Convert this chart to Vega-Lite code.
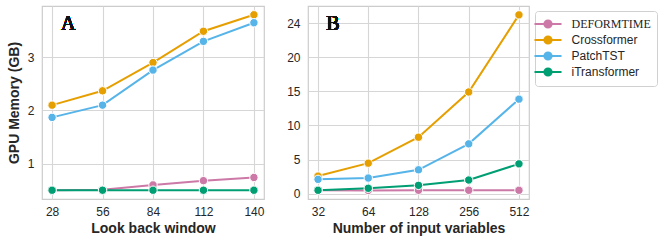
{
  "$schema": "https://vega.github.io/schema/vega-lite/v6.json",
  "padding": {"left": 6, "top": 5, "right": 0, "bottom": 0},
  "background": "white",
  "config": {
    "font": "Liberation Sans",
    "view": {"stroke": "#cccccc", "strokeWidth": 1.2},
    "axis": {
      "domain": false, "ticks": false, "grid": true, "gridColor": "#d6d6d6", "gridWidth": 1.1,
      "labelFont": "Liberation Sans", "labelFontSize": 12, "labelColor": "#262626", "labelOverlap": false,
      "titleFont": "Liberation Sans", "titleFontSize": 14, "titleFontWeight": "bold", "titleColor": "#262626",
      "labelPadding": 8
    }
  },
  "datasets": {
    "mem": [
      {"panel": "A", "x": 28, "model": "DeformTime", "mem": 0.5},
      {"panel": "A", "x": 56, "model": "DeformTime", "mem": 0.51},
      {"panel": "A", "x": 84, "model": "DeformTime", "mem": 0.6},
      {"panel": "A", "x": 112, "model": "DeformTime", "mem": 0.68},
      {"panel": "A", "x": 140, "model": "DeformTime", "mem": 0.74},
      {"panel": "A", "x": 28, "model": "Crossformer", "mem": 2.1},
      {"panel": "A", "x": 56, "model": "Crossformer", "mem": 2.37},
      {"panel": "A", "x": 84, "model": "Crossformer", "mem": 2.9},
      {"panel": "A", "x": 112, "model": "Crossformer", "mem": 3.49},
      {"panel": "A", "x": 140, "model": "Crossformer", "mem": 3.8},
      {"panel": "A", "x": 28, "model": "PatchTST", "mem": 1.87},
      {"panel": "A", "x": 56, "model": "PatchTST", "mem": 2.1},
      {"panel": "A", "x": 84, "model": "PatchTST", "mem": 2.76},
      {"panel": "A", "x": 112, "model": "PatchTST", "mem": 3.3},
      {"panel": "A", "x": 140, "model": "PatchTST", "mem": 3.65},
      {"panel": "A", "x": 28, "model": "iTransformer", "mem": 0.5},
      {"panel": "A", "x": 56, "model": "iTransformer", "mem": 0.5},
      {"panel": "A", "x": 84, "model": "iTransformer", "mem": 0.5},
      {"panel": "A", "x": 112, "model": "iTransformer", "mem": 0.5},
      {"panel": "A", "x": 140, "model": "iTransformer", "mem": 0.5},
      {"panel": "B", "x": 32, "model": "DeformTime", "mem": 0.5},
      {"panel": "B", "x": 64, "model": "DeformTime", "mem": 0.48},
      {"panel": "B", "x": 128, "model": "DeformTime", "mem": 0.5},
      {"panel": "B", "x": 256, "model": "DeformTime", "mem": 0.5},
      {"panel": "B", "x": 512, "model": "DeformTime", "mem": 0.5},
      {"panel": "B", "x": 32, "model": "Crossformer", "mem": 2.58},
      {"panel": "B", "x": 64, "model": "Crossformer", "mem": 4.47},
      {"panel": "B", "x": 128, "model": "Crossformer", "mem": 8.27},
      {"panel": "B", "x": 256, "model": "Crossformer", "mem": 14.9},
      {"panel": "B", "x": 512, "model": "Crossformer", "mem": 26.2},
      {"panel": "B", "x": 32, "model": "PatchTST", "mem": 2.1},
      {"panel": "B", "x": 64, "model": "PatchTST", "mem": 2.29},
      {"panel": "B", "x": 128, "model": "PatchTST", "mem": 3.5},
      {"panel": "B", "x": 256, "model": "PatchTST", "mem": 7.3},
      {"panel": "B", "x": 512, "model": "PatchTST", "mem": 13.85},
      {"panel": "B", "x": 32, "model": "iTransformer", "mem": 0.5},
      {"panel": "B", "x": 64, "model": "iTransformer", "mem": 0.79},
      {"panel": "B", "x": 128, "model": "iTransformer", "mem": 1.22},
      {"panel": "B", "x": 256, "model": "iTransformer", "mem": 2.0},
      {"panel": "B", "x": 512, "model": "iTransformer", "mem": 4.37}
    ]
  },
  "data": {"name": "mem"},
  "spacing": 44,
  "bounds": "flush",
  "resolve": {"scale": {"color": "independent"}, "legend": {"color": "independent"}},
  "hconcat": [
    {
      "width": 222,
      "height": 193,
      "layer": [
        {
          "transform": [{"filter": "datum.panel == 'A'"}],
          "mark": {"type": "line", "strokeWidth": 2, "point": {"filled": true, "size": 70, "stroke": "white", "strokeWidth": 1, "opacity": 1}},
          "encoding": {
            "x": {"field": "x", "type": "quantitative", "scale": {"domain": [22.4, 145.6], "nice": false, "zero": false},
                  "axis": {"values": [28, 56, 84, 112, 140], "tickCount": 10, "format": "d", "title": "Look back window", "titlePadding": 4, "labelPadding": 7}},
            "y": {"field": "mem", "type": "quantitative", "scale": {"domain": [0.335, 3.965], "nice": false, "zero": false},
                  "axis": {"values": [1, 2, 3], "tickCount": 10, "format": "d", "title": "GPU Memory (GB)", "titlePadding": 6}},
            "color": {"field": "model", "type": "nominal",
                      "scale": {"domain": ["DeformTime", "Crossformer", "PatchTST", "iTransformer"], "range": ["#CC79A7", "#E69F00", "#56B4E9", "#009E73"]},
                      "legend": null}
          }
        },
        {
          "mark": {"type": "text", "font": "Liberation Serif", "fontSize": 20, "fontWeight": "normal", "color": "#111111", "align": "center", "baseline": "middle"},
          "encoding": {"x": {"datum": 37}, "y": {"datum": 3.62}, "text": {"value": "A"}}
        }
      ]
    },
    {
      "width": 221,
      "height": 193,
      "layer": [
        {
          "transform": [{"filter": "datum.panel == 'B'"}],
          "mark": {"type": "line", "strokeWidth": 2, "point": {"filled": true, "size": 70, "stroke": "white", "strokeWidth": 1, "opacity": 1}},
          "encoding": {
            "x": {"field": "x", "type": "quantitative", "scale": {"type": "log", "base": 2, "domain": [27.86, 588.1], "nice": false},
                  "axis": {"values": [32, 64, 128, 256, 512], "tickCount": 10, "format": "d", "title": "Number of input variables", "titlePadding": 4, "labelPadding": 7}},
            "y": {"field": "mem", "type": "quantitative", "scale": {"domain": [-0.78, 27.5], "nice": false, "zero": false},
                  "axis": {"values": [0, 5, 10, 15, 20, 25], "tickCount": 12, "format": "d", "labelExpr": "datum.value == 25 ? '24' : datum.label", "title": null}},
            "color": {"field": "model", "type": "nominal",
                      "scale": {"domain": ["DeformTime", "Crossformer", "PatchTST", "iTransformer"], "range": ["#CC79A7", "#E69F00", "#56B4E9", "#009E73"]},
                      "legend": {
                        "title": null, "orient": "none", "legendX": 227, "legendY": 5,
                        "strokeColor": "#d0d0d0", "cornerRadius": 3, "padding": 6,
                        "symbolType": "M-2.25,0L2.25,0M0.6,0A0.6,0.6,0,1,1,-0.6,0A0.6,0.6,0,1,1,0.6,0",
                        "symbolSize": 144, "symbolStrokeWidth": 2,
                        "labelFontSize": 12, "labelFont": "Liberation Sans", "labelColor": "#262626", "labelOffset": 16.5,
                        "rowPadding": 0,
                        "labelExpr": "datum.value == 'DeformTime' ? 'DEFORMTIME' : datum.label",
                        "encode": {
                          "symbols": {"update": {"fill": {"scale": "color", "field": "value"}, "stroke": {"scale": "color", "field": "value"}, "opacity": {"value": 1}}},
                          "labels": {"update": {"font": {"signal": "datum.value == 'DeformTime' ? 'Liberation Serif' : 'Liberation Sans'"}}}
                        }
                      }}
          }
        },
        {
          "mark": {"type": "text", "font": "Liberation Serif", "fontSize": 20, "fontWeight": "normal", "color": "#111111", "align": "center", "baseline": "middle"},
          "encoding": {"x": {"datum": 39.3}, "y": {"datum": 24.8}, "text": {"value": "B"}}
        }
      ]
    }
  ]
}
